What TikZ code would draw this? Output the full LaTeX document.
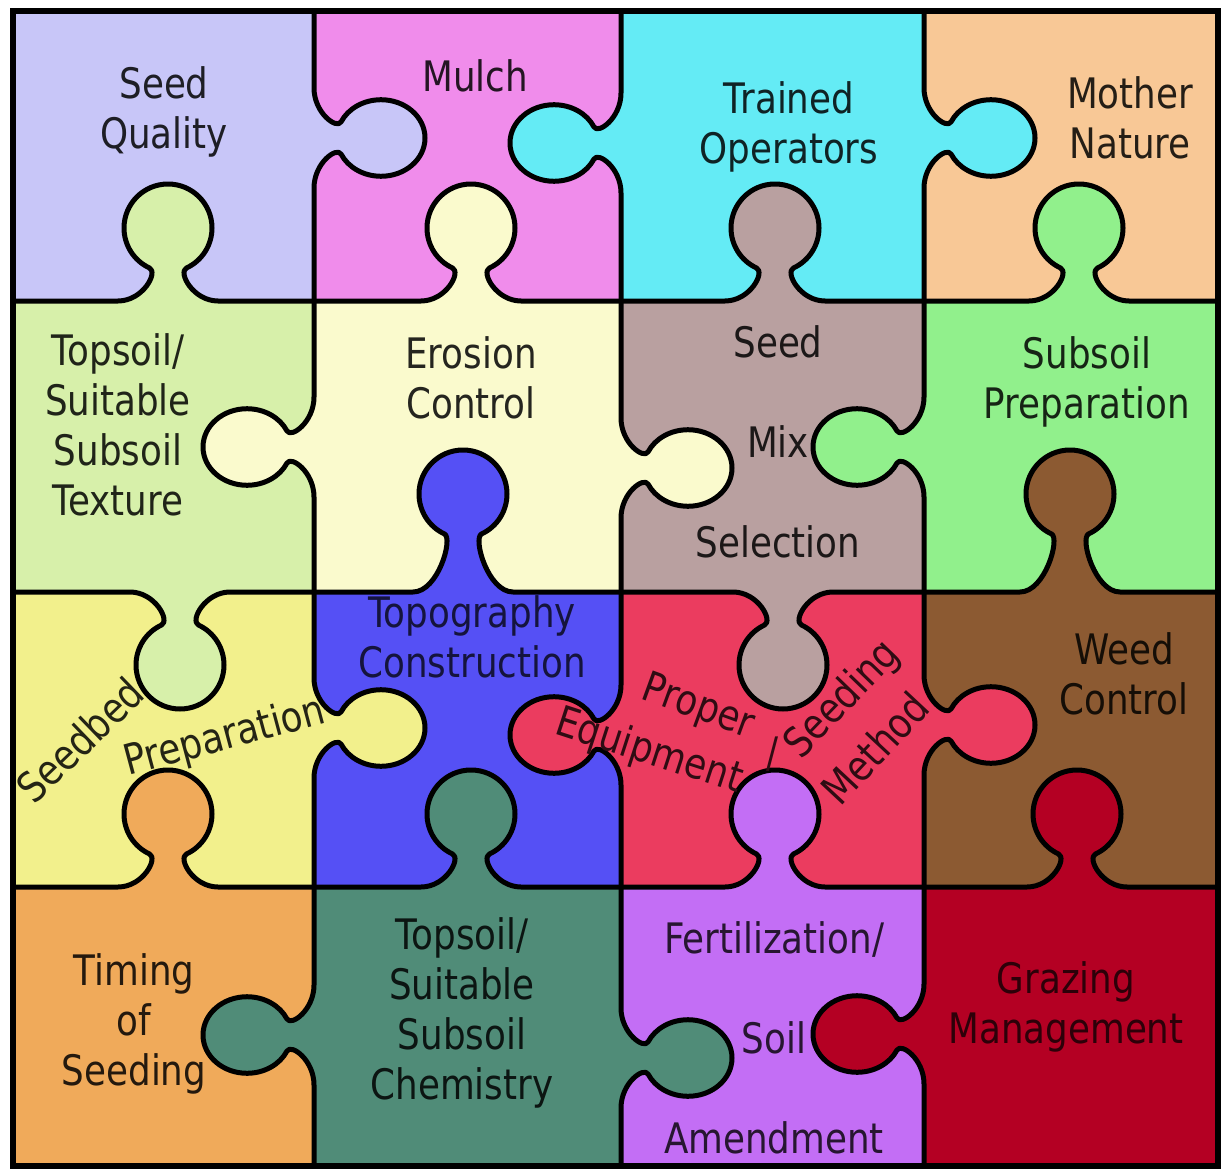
\documentclass[tikz,border=0pt]{standalone}
\usepackage{fontspec}
\setmainfont{DejaVu Sans}[FakeStretch=0.85]

\definecolor{cSeedQ}{RGB}{200,198,248}
\definecolor{cMulch}{RGB}{240,140,235}
\definecolor{cTrained}{RGB}{100,235,245}
\definecolor{cMother}{RGB}{248,200,150}
\definecolor{cTexture}{RGB}{215,240,170}
\definecolor{cErosion}{RGB}{250,250,205}
\definecolor{cSeedMix}{RGB}{185,160,160}
\definecolor{cSubsoil}{RGB}{145,240,140}
\definecolor{cSeedbed}{RGB}{242,240,140}
\definecolor{cTopo}{RGB}{85,80,245}
\definecolor{cProper}{RGB}{235,60,95}
\definecolor{cWeed}{RGB}{140,90,50}
\definecolor{cTiming}{RGB}{240,170,90}
\definecolor{cChem}{RGB}{80,140,120}
\definecolor{cFert}{RGB}{195,110,245}
\definecolor{cGraze}{RGB}{180,0,35}

\newcommand\lblfont{\fontsize{42}{50}\selectfont}

% knob outline from local (-50,0) to (50,0); #1 extra neck length, #2 head width factor
\newcommand\knobpath[2]{%
 .. controls (-25,0) and ({-9.5*#2},{28.9+#1}) .. ({-18.6*#2},{33.1+#1})
 .. controls ({-34.1*#2},{40.3+#1}) and ({-44*#2},{55.9+#1}) .. ({-44*#2},{73+#1})
 .. controls ({-44*#2},{97.3+#1}) and ({-24.3*#2},{117+#1}) .. (0,{117+#1})
 .. controls ({24.3*#2},{117+#1}) and ({44*#2},{97.3+#1}) .. ({44*#2},{73+#1})
 .. controls ({44*#2},{55.9+#1}) and ({34.1*#2},{40.3+#1}) .. ({18.6*#2},{33.1+#1})
 .. controls ({9.5*#2},{28.9+#1}) and (25,0) .. (50,0)}

% horizontal edge: #1 x-left, #2 x-right, #3 y, #4 knob centre x,
% #5 knob side (1 down, -1 up), #6 extra neck, #7 knob colour
\newcommand\hedge[7]{%
 \begin{scope}[shift={(#4,#3)}, yscale=#5]
  \fill[#7] (-50,0) \knobpath{#6}{1} -- cycle;
  \draw[edge] ({#1-#4},0) -- (-50,0) \knobpath{#6}{1} -- ({#2-#4},0);
 \end{scope}}

% vertical edge: #1 y-top, #2 y-bottom, #3 x, #4 knob centre y,
% #5 knob side (-1 right, 1 left), #6 extra neck, #7 knob colour
\newcommand\vedge[7]{%
 \begin{scope}[shift={(#3,#4)}, rotate=-90, yscale=#5]
  \fill[#7] (-50,0) \knobpath{#6}{0.87} -- cycle;
  \draw[edge] ({#1-#4},0) -- (-50,0) \knobpath{#6}{0.87} -- ({#2-#4},0);
 \end{scope}}

\tikzset{
  edge/.style={line width=5pt, line cap=round, line join=round},
  lbl/.style={font=\lblfont, align=center, inner sep=0pt,
    execute at begin node=\strut, execute at end node=\strut},
  word/.style={font=\lblfont, inner sep=0pt},
}

\begin{document}
\begin{tikzpicture}[x=1pt, y=-1pt]
\useasboundingbox (0,0) rectangle (1221,1169);
\fill[white] (0,0) rectangle (1221,1169);

% cells
\fill[cSeedQ]   (13,11)    rectangle (314,301);
\fill[cMulch]   (314,11)   rectangle (621,301);
\fill[cTrained] (621,11)   rectangle (924,301);
\fill[cMother]  (924,11)   rectangle (1218,301);
\fill[cTexture] (13,301)   rectangle (314,592);
\fill[cErosion] (314,301)  rectangle (621,592);
\fill[cSeedMix] (621,301)  rectangle (924,592);
\fill[cSubsoil] (924,301)  rectangle (1218,592);
\fill[cSeedbed] (13,592)   rectangle (314,887);
\fill[cTopo]    (314,592)  rectangle (621,887);
\fill[cProper]  (621,592)  rectangle (924,887);
\fill[cWeed]    (924,592)  rectangle (1218,887);
\fill[cTiming]  (13,887)   rectangle (314,1166);
\fill[cChem]    (314,887)  rectangle (621,1166);
\fill[cFert]    (621,887)  rectangle (924,1166);
\fill[cGraze]   (924,887)  rectangle (1218,1166);

% row boundaries
\hedge{13}{314}{301}{168}{-1}{0}{cTexture}
\hedge{314}{621}{301}{471}{-1}{0}{cErosion}
\hedge{621}{924}{301}{775}{-1}{0}{cSeedMix}
\hedge{924}{1218}{301}{1079}{-1}{0}{cSubsoil}
\hedge{13}{314}{592}{180}{1}{0}{cTexture}
\hedge{314}{621}{592}{463}{-1}{25}{cTopo}
\hedge{621}{924}{592}{783}{1}{0}{cSeedMix}
\hedge{924}{1218}{592}{1070}{-1}{25}{cWeed}
\hedge{13}{314}{887}{168}{-1}{0}{cTiming}
\hedge{314}{621}{887}{471}{-1}{0}{cChem}
\hedge{621}{924}{887}{775}{-1}{0}{cFert}
\hedge{924}{1218}{887}{1077}{-1}{0}{cGraze}

% column boundaries
\vedge{11}{301}{314}{138}{-1}{-6}{cSeedQ}
\vedge{11}{301}{621}{143}{1}{-6}{cTrained}
\vedge{11}{301}{924}{138}{-1}{-6}{cTrained}
\vedge{301}{592}{314}{447}{1}{-6}{cErosion}
\vedge{301}{592}{621}{468}{-1}{-6}{cErosion}
\vedge{301}{592}{924}{447}{1}{-6}{cSubsoil}
\vedge{592}{887}{314}{728}{-1}{-6}{cSeedbed}
\vedge{592}{887}{621}{735}{1}{-6}{cProper}
\vedge{592}{887}{924}{725}{-1}{-6}{cProper}
\vedge{887}{1166}{314}{1035}{1}{-6}{cChem}
\vedge{887}{1166}{621}{1058}{-1}{-6}{cChem}
\vedge{887}{1166}{924}{1034}{1}{-6}{cGraze}

% frame
\draw[line width=6pt] (13,11) rectangle (1218,1166);

% labels
\node[lbl, text=cSeedQ!15!black]    (seedq)   at (164,115)  {Seed\\Quality};
\node[lbl, text=cMulch!15!black]    (mulch)   at (475,82)   {Mulch};
\node[lbl, text=cTrained!15!black]  (trained) at (789,130)  {Trained\\Operators};
\node[lbl, text=cMother!15!black]   (mother)  at (1130,125) {Mother\\Nature};
\node[lbl, text=cTexture!15!black]  (texture) at (118,432)  {Topsoil/\\Suitable\\Subsoil\\Texture};
\node[lbl, text=cErosion!15!black]  (erosion) at (471,385)  {Erosion\\Control};
\node[lbl, text=cSeedMix!15!black]  (seedmix) at (778,449)  {Seed\\[50pt]Mix\\[50pt]Selection};
\node[lbl, text=cSubsoil!15!black]  (subsoil) at (1087,385) {Subsoil\\Preparation};
\node[lbl, text=cTopo!25!black]     (topo)    at (472,644)  {Topography\\Construction};
\node[lbl, text=cWeed!15!black]     (weed)    at (1124,681) {Weed\\Control};
\node[lbl, text=cTiming!15!black]   (timing)  at (134,1027) {Timing\\of\\Seeding};
\node[lbl, text=cChem!15!black]     (chem)    at (462,1016) {Topsoil/\\Suitable\\Subsoil\\Chemistry};
\node[lbl, text=cFert!20!black]     (fert)    at (774,1045) {Fertilization/\\[50pt]Soil\\[50pt]Amendment};
\node[lbl, text=cGraze!25!black]    (graze)   at (1066,1010) {Grazing\\Management};

\node[word, text=cSeedbed!15!black, rotate=44]  (seedbed) at (80,740)  {Seedbed};
\node[word, text=cSeedbed!15!black, rotate=15]  (prep)    at (225,738) {Preparation};
\node[word, text=cProper!20!black, rotate=-20]  (proper)  at (698,708) {Proper};
\node[word, text=cProper!20!black, rotate=-18]  (equip)   at (649,752) {Equipment};
\node[word, text=cProper!20!black]              (slash)   at (773,754) {/};
\node[word, text=cProper!20!black, rotate=46]   (seeding) at (843,700) {Seeding};
\node[word, text=cProper!20!black, rotate=47]   (method)  at (875,748) {Method};
\end{tikzpicture}
\end{document}
